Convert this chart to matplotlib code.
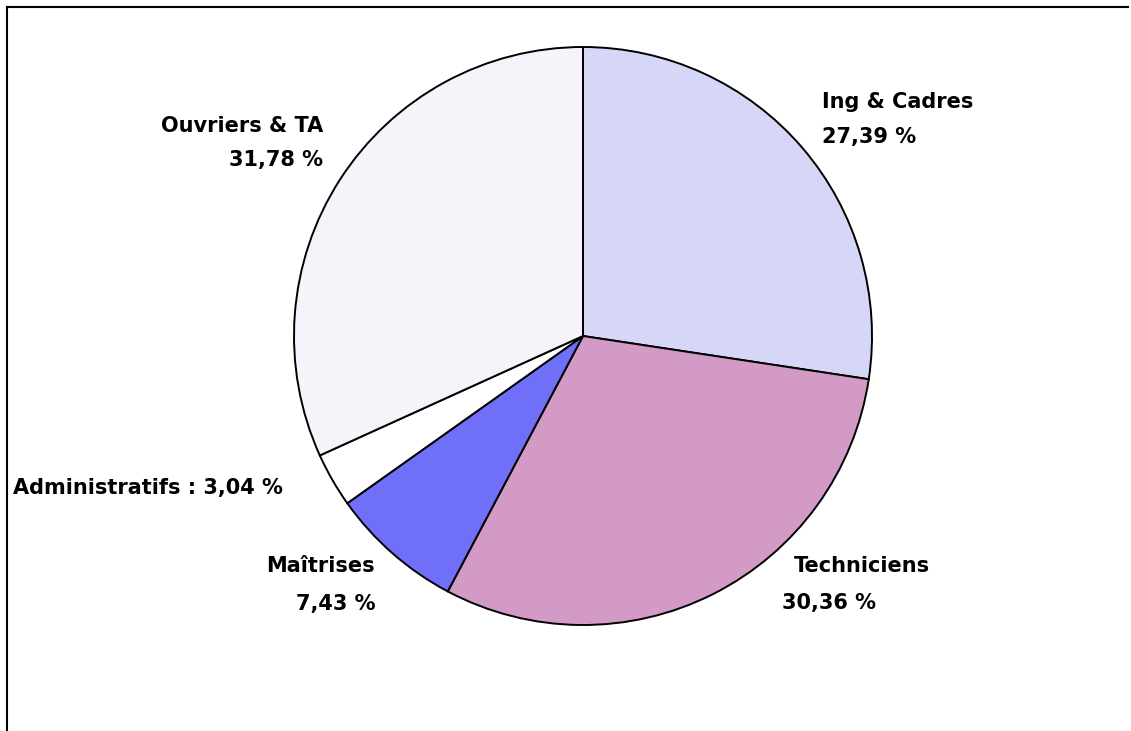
import matplotlib.pyplot as plt
from matplotlib.lines import Line2D

# parts of the workforce, clockwise from 12 o'clock
categories = ["Ing & Cadres", "Techniciens", "Maîtrises", "Administratifs", "Ouvriers & TA"]
shares = [27.39, 30.36, 7.43, 3.04, 31.78]
colors = ["#d6d6f7", "#d39ac6", "#6f6ff8", "#ffffff", "#f6f3fa"]

W, H = 1131, 731

fig = plt.figure(figsize=(W / 100, H / 100), dpi=100)
ax = fig.add_axes([0, 0, 1, 1])

wedges, _ = ax.pie(
    shares,
    colors=colors,
    startangle=90,
    counterclock=False,
    center=(583, 336),
    radius=289,
    wedgeprops={"edgecolor": "black", "linewidth": 1.4},
    frame=True,
)
ax.set_xlim(0, W)
ax.set_ylim(H, 0)
ax.set_aspect("equal")
ax.axis("off")

# the pie is drawn with y pointing down, so flip the sweep direction back
for w in wedges:
    t1, t2 = w.theta1, w.theta2
    w.set_theta1(-t2)
    w.set_theta2(-t1)

font = dict(fontsize=15, fontweight="bold", color="black", family="DejaVu Sans")

def fmt(v):
    return f"{v:.2f}".replace(".", ",") + " %"

ax.text(822, 102, categories[0], ha="left", va="center", **font)
ax.text(822, 137, fmt(shares[0]), ha="left", va="center", **font)
ax.text(794, 566, categories[1], ha="left", va="center", **font)
ax.text(782, 603, fmt(shares[1]), ha="left", va="center", **font)
ax.text(375, 566, categories[2], ha="right", va="center", **font)
ax.text(375, 604, fmt(shares[2]), ha="right", va="center", **font)
ax.text(13, 488, categories[3] + " : " + fmt(shares[3]), ha="left", va="center", **font)
ax.text(323, 126, categories[4], ha="right", va="center", **font)
ax.text(323, 160, fmt(shares[4]), ha="right", va="center", **font)

# chart frame (top and left edges visible)
fig.add_artist(Line2D([7 / W, 1128 / W], [1 - 7 / H, 1 - 7 / H], color="black", lw=1.5))
fig.add_artist(Line2D([7 / W, 7 / W], [1 - 7 / H, 0], color="black", lw=1.5))

fig.savefig("out.png", dpi=100)
